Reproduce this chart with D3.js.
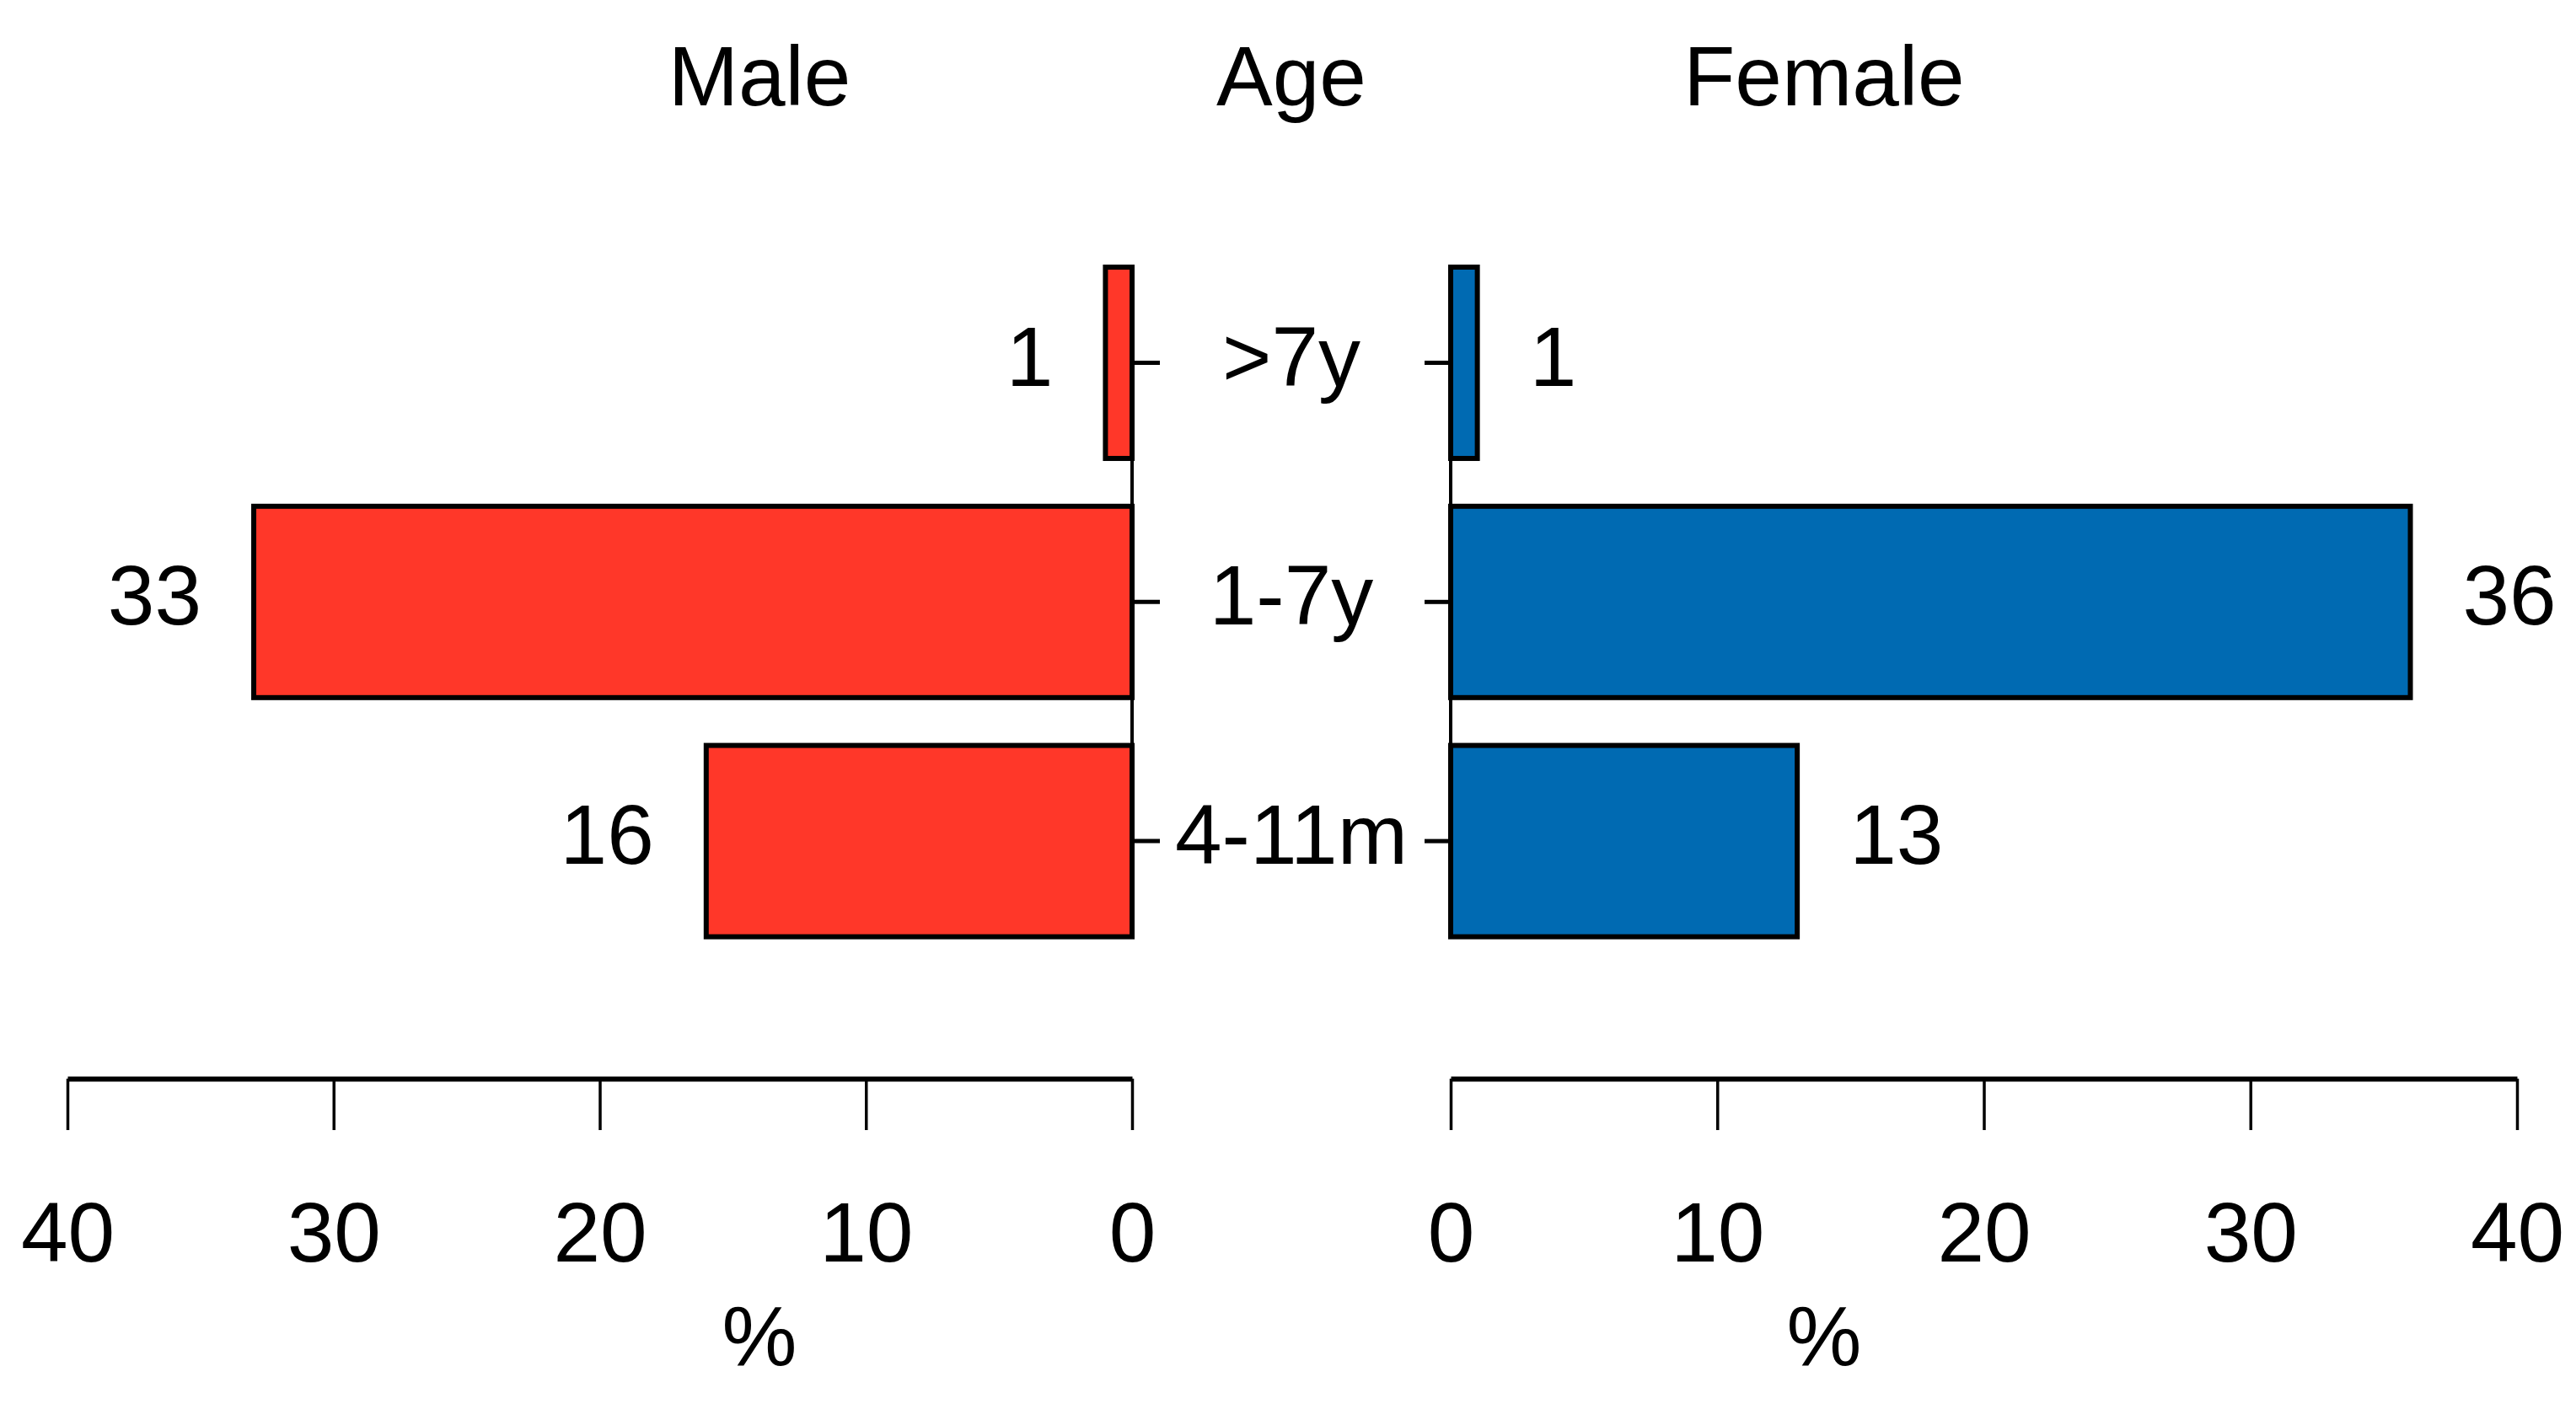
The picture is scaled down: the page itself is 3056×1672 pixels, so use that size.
<!DOCTYPE html>
<html>
<head>
<meta charset="utf-8">
<script src="https://cdn.jsdelivr.net/npm/d3@7"></script>
<style>
  body { margin: 0; background: #fff; }
  svg text { font-family: "Liberation Sans", Arial, sans-serif; fill: #000; }
</style>
</head>
<body>
<svg id="chart" width="3056" height="1672"></svg>
<script>
const ageGroups = ['>7y', '1-7y', '4-11m'];
const maleValues = [1, 33, 16];
const femaleValues = [1, 36, 13];
const pctTicks = [0, 10, 20, 30, 40];

const svg = d3.select('#chart');
const fontSize = 100;

const xMale = d3.scaleLinear().domain([0, 40]).range([1343, 80]);
const xFemale = d3.scaleLinear().domain([0, 40]).range([1721, 2986]);
const y = d3.scaleBand().domain(ageGroups).range([288.6, 1140]).paddingInner(0.2).paddingOuter(0.1);

const ageX = 1532;
const maleMid = 901;
const femaleMid = 2164;

// titles
[['Male', maleMid], ['Age', ageX], ['Female', femaleMid]].forEach(([t, x]) => {
    svg.append('text').attr('x', x).attr('y', 125)
        .attr('text-anchor', 'middle').attr('font-size', fontSize).text(t);
});

// bars
svg.selectAll('rect.male').data(maleValues).join('rect')
    .attr('class', 'male')
    .attr('x', d => xMale(d))
    .attr('y', (d, i) => y(ageGroups[i]))
    .attr('width', d => xMale(0) - xMale(d))
    .attr('height', y.bandwidth())
    .attr('fill', '#ff3729').attr('stroke', '#000').attr('stroke-width', 6);

svg.selectAll('rect.female').data(femaleValues).join('rect')
    .attr('class', 'female')
    .attr('x', xFemale(0))
    .attr('y', (d, i) => y(ageGroups[i]))
    .attr('width', d => xFemale(d) - xFemale(0))
    .attr('height', y.bandwidth())
    .attr('fill', '#006ab2').attr('stroke', '#000').attr('stroke-width', 6);

// zero lines
const yTop = y(ageGroups[0]);
const yBot = y(ageGroups[ageGroups.length - 1]) + y.bandwidth();
[xMale(0), xFemale(0)].forEach(x => {
    svg.append('line').attr('x1', x).attr('x2', x).attr('y1', yTop).attr('y2', yBot)
        .attr('stroke', '#000').attr('stroke-width', 4);
});

// value labels
svg.selectAll('text.mval').data(maleValues).join('text')
    .attr('class', 'mval')
    .attr('x', d => xMale(d) - 62)
    .attr('y', (d, i) => y(ageGroups[i]) + y.bandwidth() / 2 + 27)
    .attr('text-anchor', 'end').attr('font-size', fontSize)
    .text(d => d);

svg.selectAll('text.fval').data(femaleValues).join('text')
    .attr('class', 'fval')
    .attr('x', d => xFemale(d) + 62)
    .attr('y', (d, i) => y(ageGroups[i]) + y.bandwidth() / 2 + 27)
    .attr('text-anchor', 'start').attr('font-size', fontSize)
    .text(d => d);

// age ticks on both sides (band axis already centres ticks)
const leftAge = svg.append('g').attr('transform', `translate(${xMale(0)},0)`)
    .call(d3.axisRight(y).tickSize(33).tickFormat(''));
const rightAge = svg.append('g').attr('transform', `translate(${xFemale(0)},0)`)
    .call(d3.axisLeft(y).tickSize(31).tickFormat(''));
[leftAge, rightAge].forEach(g => {
    g.select('.domain').remove();
    g.selectAll('.tick line').attr('stroke', '#000').attr('stroke-width', 5);
});

// age labels
svg.selectAll('text.age').data(ageGroups).join('text')
    .attr('class', 'age')
    .attr('x', ageX)
    .attr('y', d => y(d) + y.bandwidth() / 2 + 27)
    .attr('text-anchor', 'middle').attr('font-size', fontSize)
    .text(d => d);

// percent axes
[xMale, xFemale].forEach(sc => {
    const g = svg.append('g').attr('transform', 'translate(0,1280)')
        .call(d3.axisBottom(sc).tickValues(pctTicks).tickSize(61).tickSizeOuter(0).tickPadding(85));
    g.select('.domain').attr('stroke', '#000').attr('stroke-width', 6);
    g.selectAll('.tick line').attr('stroke', '#000').attr('stroke-width', 3.5);
    g.selectAll('.tick text').attr('font-size', fontSize)
        .attr('font-family', '"Liberation Sans", Arial, sans-serif').attr('fill', '#000');
});

[maleMid, femaleMid].forEach(x => {
    svg.append('text').attr('x', x).attr('y', 1620)
        .attr('text-anchor', 'middle').attr('font-size', fontSize).text('%');
});
</script>
</body>
</html>
